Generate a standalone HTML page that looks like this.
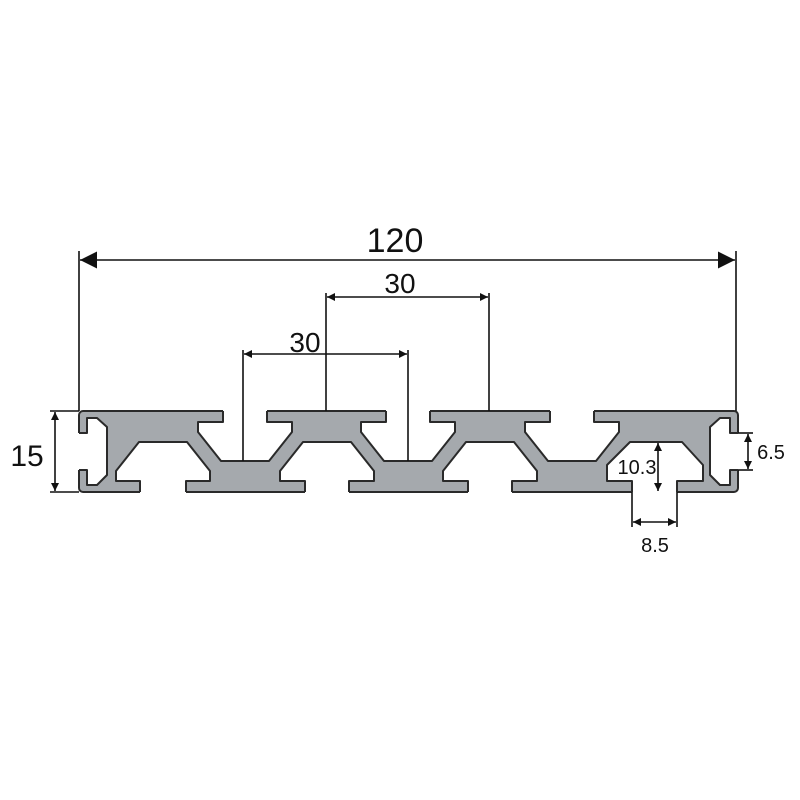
<!DOCTYPE html>
<html><head><meta charset="utf-8"><style>
html,body{margin:0;padding:0;background:#fff;}
svg{display:block;}
text{font-family:"Liberation Sans",sans-serif;fill:#111;}
</style></head><body>
<svg width="800" height="800" viewBox="0 0 800 800" xmlns="http://www.w3.org/2000/svg">
<defs>
<marker id="a" viewBox="0 0 10 10" refX="10" refY="5" markerWidth="8" markerHeight="8" markerUnits="userSpaceOnUse" orient="auto-start-reverse"><path d="M0,0 L10,5 L0,10 z" fill="#111"/></marker>
<marker id="b" viewBox="0 0 10 10" refX="10" refY="5" markerWidth="17" markerHeight="17" markerUnits="userSpaceOnUse" orient="auto-start-reverse"><path d="M0,0 L10,5 L0,10 z" fill="#111"/></marker>
</defs>
<rect x="79" y="411" width="659" height="81" rx="4" fill="#a5a9ad" stroke="#2a2a2a" stroke-width="2"/>
<g fill="#fff" stroke="none">
<polygon points="223,405 223,422 198,422 198,432 221,461 269,461 292,432 292,422 267,422 267,405"/>
<polygon points="386,405 386,422 361,422 361,432 384,461 432,461 455,432 455,422 430,422 430,405"/>
<polygon points="550,405 550,422 525,422 525,432 548,461 596,461 619,432 619,422 594,422 594,405"/>
<polygon points="140,498 140,481 116,481 116,471 139,442 187,442 210,471 210,481 186,481 186,498"/>
<polygon points="305,498 305,481 280,481 280,471 303,442 351,442 374,471 374,481 349,481 349,498"/>
<polygon points="468,498 468,481 443,481 443,471 466,442 514,442 537,471 537,481 512,481 512,498"/>
<polygon points="632,498 632,481 607,481 607,465 630,442 682,442 703,465 703,481 677,481 677,498"/>
<polygon points="70,433 87,433 87,418 97,418 107,427 107,475 97,485 87,485 87,470 70,470"/>
<polygon points="746,433 730,433 730,418 720,418 710,427 710,475 720,485 730,485 730,470 746,470"/>
</g>
<g fill="none" stroke="#2a2a2a" stroke-width="2" stroke-linejoin="round">
<polyline points="223,411 223,422 198,422 198,432 221,461 269,461 292,432 292,422 267,422 267,411"/>
<polyline points="386,411 386,422 361,422 361,432 384,461 432,461 455,432 455,422 430,422 430,411"/>
<polyline points="550,411 550,422 525,422 525,432 548,461 596,461 619,432 619,422 594,422 594,411"/>
<polyline points="140,492 140,481 116,481 116,471 139,442 187,442 210,471 210,481 186,481 186,492"/>
<polyline points="305,492 305,481 280,481 280,471 303,442 351,442 374,471 374,481 349,481 349,492"/>
<polyline points="468,492 468,481 443,481 443,471 466,442 514,442 537,471 537,481 512,481 512,492"/>
<polyline points="632,492 632,481 607,481 607,465 630,442 682,442 703,465 703,481 677,481 677,492"/>
<polyline points="79,433 87,433 87,418 97,418 107,427 107,475 97,485 87,485 87,470 79,470"/>
<polyline points="738,433 730,433 730,418 720,418 710,427 710,475 720,485 730,485 730,470 738,470"/>
</g>
<g stroke="#111" stroke-width="1.6" fill="none">
<line x1="79" y1="251" x2="79" y2="411"/>
<line x1="736" y1="251" x2="736" y2="411"/>
<line x1="80" y1="260" x2="735" y2="260" marker-start="url(#b)" marker-end="url(#b)"/>
<line x1="326" y1="293" x2="326" y2="411"/>
<line x1="489" y1="293" x2="489" y2="411"/>
<line x1="327" y1="297" x2="488" y2="297" marker-start="url(#a)" marker-end="url(#a)"/>
<line x1="243" y1="350" x2="243" y2="461"/>
<line x1="408" y1="350" x2="408" y2="461"/>
<line x1="244" y1="354" x2="407" y2="354" marker-start="url(#a)" marker-end="url(#a)"/>
<line x1="50" y1="411" x2="79" y2="411"/>
<line x1="50" y1="492" x2="79" y2="492"/>
<line x1="55" y1="412" x2="55" y2="491" marker-start="url(#a)" marker-end="url(#a)"/>
<line x1="738" y1="433" x2="753" y2="433"/>
<line x1="738" y1="470" x2="753" y2="470"/>
<line x1="748" y1="434" x2="748" y2="469" marker-start="url(#a)" marker-end="url(#a)"/>
<line x1="658" y1="443" x2="658" y2="491" marker-start="url(#a)" marker-end="url(#a)"/>
<line x1="632" y1="492" x2="632" y2="527"/>
<line x1="677" y1="492" x2="677" y2="527"/>
<line x1="633" y1="522" x2="676" y2="522" marker-start="url(#a)" marker-end="url(#a)"/>
</g>
<text x="395" y="252" font-size="34" text-anchor="middle">120</text>
<text x="400" y="293" font-size="28" text-anchor="middle">30</text>
<text x="305" y="352" font-size="28" text-anchor="middle">30</text>
<text x="27" y="466" font-size="30" text-anchor="middle">15</text>
<text x="771" y="459" font-size="20" text-anchor="middle">6.5</text>
<text x="637" y="474" font-size="20" text-anchor="middle">10.3</text>
<text x="655" y="552" font-size="20" text-anchor="middle">8.5</text>
</svg>
</body></html>
